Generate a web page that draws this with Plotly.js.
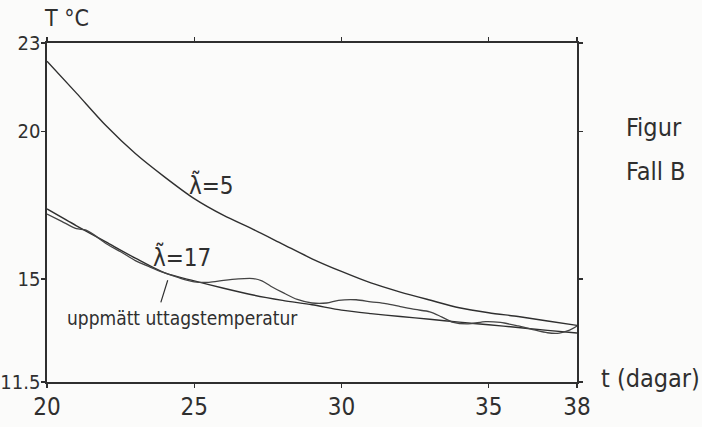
<!DOCTYPE html>
<html><head><meta charset="utf-8">
<script src="https://cdn.plot.ly/plotly-3.0.1.min.js"></script>
<style>body{margin:0;background:#fbfbfa}</style>
</head><body><div id="chart" style="width:702px;height:427px"></div>
<script>
// λ̃ = 5 model curve
const t_model = [20,21,22,23,24,25,26,27,28,29,30,31,32,33,34,35,36,37,38];
const T_lambda5 = [22.38,21.3,20.2,19.25,18.45,17.72,17.15,16.68,16.18,15.68,15.25,14.86,14.55,14.28,14.02,13.85,13.72,13.57,13.42];
// λ̃ = 17 model curve
const T_lambda17 = [17.37,16.8,16.25,15.7,15.2,14.93,14.68,14.45,14.27,14.12,13.94,13.82,13.72,13.63,13.53,13.44,13.35,13.25,13.16];
// measured outlet temperature
const t_meas = [20,20.5,21,21.3,21.6,22,22.5,23,23.5,24,24.5,25,25.5,26,26.5,27,27.3,27.6,28,28.5,29,29.5,29.9,30.5,31,31.5,32,32.5,33,33.4,33.8,34.3,34.9,35.4,36,36.5,37,37.4,37.7,38];
const T_meas = [17.2,16.95,16.7,16.66,16.49,16.2,15.92,15.62,15.4,15.2,15.03,14.9,14.88,14.95,15.0,15.01,14.93,14.75,14.54,14.3,14.18,14.18,14.27,14.29,14.22,14.16,14.06,13.96,13.88,13.71,13.52,13.47,13.55,13.52,13.4,13.28,13.17,13.16,13.24,13.4];
const xTicks = [20,25,30,35,38];
const yTicks = [11.5,15,20,23];

const FONT = "DejaVu Sans Condensed, DejaVu Sans, sans-serif";
const INK = "#2f2f2f";
const line = {color: INK, width: 1.4, shape: 'spline', smoothing: 0.8};

const traces = [
  {x: t_model, y: T_lambda5, mode: 'lines', line: line, hoverinfo: 'skip'},
  {x: t_model, y: T_lambda17, mode: 'lines', line: line, hoverinfo: 'skip'},
  {x: t_meas, y: T_meas, mode: 'lines', line: {color: '#444', width: 1.3, shape: 'spline', smoothing: 0.8}, hoverinfo: 'skip'}
];

const axisCommon = {
  showline: true, linecolor: INK, linewidth: 1.6, mirror: 'ticks',
  ticks: 'outside', ticklen: 4, tickwidth: 1.4, tickcolor: INK,
  showgrid: false, zeroline: false, fixedrange: true
};

const layout = {
  width: 702, height: 427,
  margin: {l: 47, r: 125, t: 43, b: 45},
  paper_bgcolor: '#fbfbfa', plot_bgcolor: '#fbfbfa',
  showlegend: false,
  xaxis: Object.assign({}, axisCommon, {range: [20, 38], tickvals: xTicks, ticktext: xTicks.map(String), ticklabelstandoff: -1, tickfont: {family: FONT, size: 24, color: INK}}),
  yaxis: Object.assign({}, axisCommon, {range: [11.5, 23], tickvals: yTicks, ticktext: yTicks.map(String), ticklabelstandoff: -3, tickfont: {family: FONT, size: 20, color: INK}}),
  annotations: [
    {xref: 'paper', yref: 'paper', x: -0.01, y: 1.0, yshift: 25, xanchor: 'left', yanchor: 'middle', text: 'T °C', showarrow: false, font: {family: FONT, size: 23, color: INK}},
    {xref: 'paper', yref: 'paper', x: 1.0, y: 0, xshift: 22, yshift: 4, xanchor: 'left', yanchor: 'middle', text: 't (dagar)', showarrow: false, font: {family: FONT, size: 25, color: INK}},
    {xref: 'paper', yref: 'paper', x: 1.0, y: 0.752, xshift: 47, xanchor: 'left', yanchor: 'middle', text: 'Figur', showarrow: false, font: {family: FONT, size: 25, color: INK}},
    {xref: 'paper', yref: 'paper', x: 1.0, y: 0.62, xshift: 47, xanchor: 'left', yanchor: 'middle', text: 'Fall B', showarrow: false, font: {family: FONT, size: 25, color: INK}},
    {x: 25.6, y: 18.2, xanchor: 'center', yanchor: 'middle', text: 'λ̃=5', showarrow: false, font: {family: FONT, size: 24, color: INK}},
    {x: 24.6, y: 15.75, xanchor: 'center', yanchor: 'middle', text: 'λ̃=17', showarrow: false, font: {family: FONT, size: 24, color: INK}},
    {x: 24.1, y: 14.95, ax: 23.85, ay: 14.15, axref: 'x', ayref: 'y', text: '', showarrow: true, arrowhead: 0, arrowwidth: 1.2, arrowcolor: INK},
    {x: 24.6, y: 13.67, xanchor: 'center', yanchor: 'middle', text: 'uppmätt uttagstemperatur', showarrow: false, font: {family: FONT, size: 19, color: INK}}
  ]
};

Plotly.newPlot('chart', traces, layout, {displayModeBar: false, staticPlot: true});
</script></body></html>
